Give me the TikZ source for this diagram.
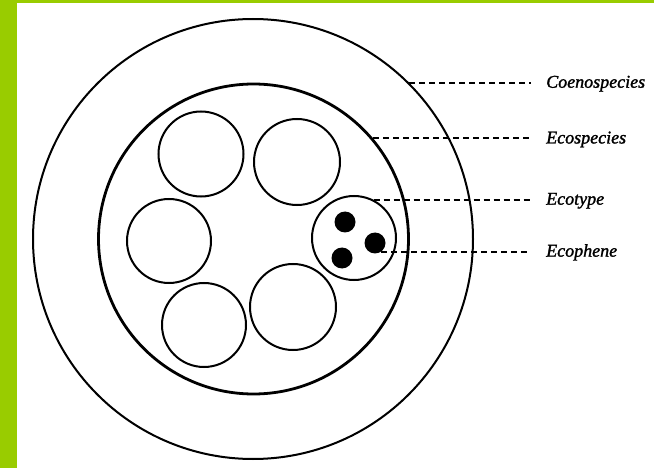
\documentclass[tikz,border=0pt]{standalone}
\usepackage{fontspec}
\setmainfont{Liberation Serif}
\newfontface\labfont{Liberation Serif Italic}[FakeBold=1.5]
\definecolor{framegreen}{RGB}{153,204,0}
\begin{document}
\begin{tikzpicture}[x=1pt,y=-1pt,
  ring/.style={circle,draw=black,line width=2pt,inner sep=0pt,minimum size=#1},
  dot/.style={circle,fill=black,inner sep=0pt,minimum size=21pt},
  lab/.style={font=\labfont\fontsize{18}{20}\selectfont,inner xsep=15pt,inner ysep=0pt,anchor=base west},
  leader/.style={line width=2pt,dash pattern=on 6pt off 4pt}]
\useasboundingbox (0,0) rectangle (654,468);
\fill[white] (0,0) rectangle (654,468);
\fill[framegreen] (0,0) rectangle (17,468);
\fill[framegreen] (0,0) rectangle (654,3);
% circles
\node[ring=440pt] (coeno) at (253,239) {};
\node[ring=310pt,line width=2.8pt] (ecosp) at (253.5,239) {};
\node[ring=85pt] (s1) at (201,154) {};
\node[ring=86pt] (s2) at (297,162) {};
\node[ring=84pt] (s3) at (169,241) {};
\node[ring=84pt] (s4) at (204,325) {};
\node[ring=86pt] (s5) at (293,307) {};
\node[ring=84pt] (ecot) at (354,238) {};
\node[dot] (d1) at (345,222) {};
\node[dot] (d2) at (375,243) {};
\node[dot] (d3) at (342,258) {};
% start points
\coordinate (a1) at (coeno.45.7);
\coordinate (a2) at (ecosp.40.9);
\coordinate (a3) at (ecot.63.2);
\coordinate (a4) at (d2.-54);
% labels
\node[lab] (l1) at ([yshift=-5pt]a1 -| 531,0) {Coenospecies};
\node[lab] (l2) at ([yshift=-5pt]a2 -| 531,0) {Ecospecies};
\node[lab] (l3) at ([yshift=-5pt]a3 -| 531,0) {Ecotype};
\node[lab] (l4) at ([yshift=-5pt]a4 -| 531,0) {Ecophene};
% leaders
\draw[leader] (a1) -- (a1 -| l1.west);
\draw[leader] (a2) -- (a2 -| l2.west);
\draw[leader] (a3) -- (a3 -| l3.west);
\draw[leader] (a4) -- (a4 -| l4.west);
\end{tikzpicture}
\end{document}
